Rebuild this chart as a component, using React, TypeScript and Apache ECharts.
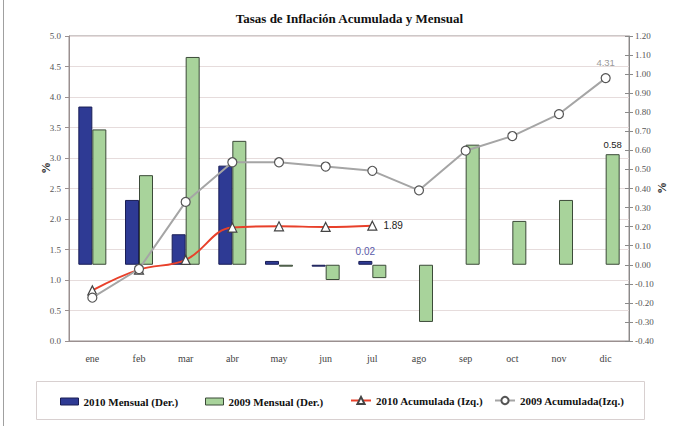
import React, { useEffect, useRef } from "react";
import * as echarts from "echarts";

const categories = ["ene", "feb", "mar", "abr", "may", "jun", "jul", "ago", "sep", "oct", "nov", "dic"];
const mensual2010 = [0.83, 0.34, 0.16, 0.52, 0.02, -0.01, 0.02, null, null, null, null, null];
const mensual2009 = [0.71, 0.47, 1.09, 0.65, -0.01, -0.08, -0.07, -0.3, 0.63, 0.23, 0.34, 0.58];
const acumulada2010 = [0.83, 1.17, 1.33, 1.86, 1.88, 1.87, 1.89, null, null, null, null, null];
const acumulada2009 = [0.71, 1.18, 2.28, 2.93, 2.93, 2.86, 2.79, 2.47, 3.12, 3.36, 3.72, 4.31];

const seriesNames = ["2010 Mensual (Der.)", "2009 Mensual (Der.)", "2010 Acumulada (Izq.)", "2009 Acumulada(Izq.)"];
const labelled2010Mensual = 6;
const labelled2009Mensual = 11;
const labelled2010Acum = 6;
const labelled2009Acum = 11;

const BLUE = "#2E3A94";
const BLUE_BORDER = "#1A1E55";
const GREEN = "#A8D39B";
const GREEN_BORDER = "#3B4A38";
const RED = "#E8402A";
const GRAY_LINE = "#A5A5A5";
const SERIF = "'Liberation Serif', 'Times New Roman', serif";
const SANS = "'Liberation Sans', Arial, sans-serif";

export default function App() {
  const ref = useRef<HTMLDivElement>(null);
  useEffect(() => {
    if (!ref.current) return;
    const chart = echarts.init(ref.current, null, { renderer: "svg" });
    const legendText = { fontFamily: SERIF, fontWeight: "bold", fontSize: 11, color: "#111" };
    const option: any = {
      animation: false,
      backgroundColor: "#ffffff",
      title: {
        text: "Tasas de Inflación Acumulada y Mensual",
        left: "center",
        top: 7,
        textStyle: { fontFamily: SERIF, fontWeight: "bold", fontSize: 13, color: "#111" },
      },
      grid: {
        left: 69,
        right: 70,
        top: 36,
        bottom: 85,
        show: true,
        borderColor: "#9A9090",
        borderWidth: 1,
        backgroundColor: "transparent",
      },
      legend: [
        { data: [{ name: seriesNames[0], icon: "rect", itemStyle: { color: BLUE, borderColor: BLUE_BORDER, borderWidth: 1 } }], left: 60, top: 396, padding: 0, itemWidth: 18, itemHeight: 7, textStyle: legendText },
        { data: [{ name: seriesNames[1], icon: "rect", itemStyle: { color: GREEN, borderColor: GREEN_BORDER, borderWidth: 1 } }], left: 205, top: 396, padding: 0, itemWidth: 18, itemHeight: 7, textStyle: legendText },
        { data: [seriesNames[2]], left: 350, top: 395, padding: 0, itemWidth: 20, itemHeight: 9, textStyle: legendText },
        { data: [seriesNames[3]], left: 494, top: 395, padding: 0, itemWidth: 20, itemHeight: 9, textStyle: legendText },
      ],
      graphic: [
        { type: "line", shape: { x1: 3.5, y1: 0, x2: 3.5, y2: 426 }, style: { stroke: "#A0A0A0", lineWidth: 1 } },
        { type: "rect", shape: { x: 36.5, y: 381.5, width: 608, height: 38 }, style: { fill: "none", stroke: "#D8D0D0", lineWidth: 1 }, z: -1 },
        { type: "text", x: 46, y: 168, rotation: Math.PI / 2, style: { text: "%", fontFamily: SERIF, fontWeight: "bold", fontSize: 12, fill: "#222", align: "center", verticalAlign: "middle" } },
        { type: "text", x: 662, y: 188, rotation: Math.PI / 2, style: { text: "%", fontFamily: SERIF, fontWeight: "bold", fontSize: 12, fill: "#222", align: "center", verticalAlign: "middle" } },
      ],
      xAxis: {
        type: "category",
        data: categories,
        axisLine: { show: true, lineStyle: { color: "#9A9090" } },
        axisTick: { show: false },
        axisLabel: { fontFamily: SERIF, fontSize: 10, color: "#444", margin: 12 },
        splitLine: { show: false },
      },
      yAxis: [
        {
          type: "value",
          min: 0,
          max: 5,
          interval: 0.5,
          position: "left",
          axisLine: { show: true, lineStyle: { color: "#9A9090" } },
          axisTick: { show: true, length: 4, lineStyle: { color: "#9A9090" } },
          axisLabel: { fontFamily: SERIF, fontSize: 9, color: "#555", margin: 8, formatter: (v: number) => v.toFixed(1) },
          splitLine: { show: true, lineStyle: { color: "#E6DCDC", width: 1 } },
        },
        {
          type: "value",
          min: -0.4,
          max: 1.2,
          interval: 0.1,
          position: "right",
          axisLine: { show: true, lineStyle: { color: "#8A8A8A" } },
          axisTick: { show: true, length: 4, lineStyle: { color: "#8A8A8A" } },
          axisLabel: { fontFamily: SERIF, fontSize: 9, color: "#555", margin: 6, formatter: (v: number) => v.toFixed(2) },
          splitLine: { show: false },
        },
        {
          type: "value",
          min: -0.4,
          max: 1.2,
          interval: 0.1,
          position: "right",
          axisLine: { show: false },
          axisTick: { show: true, inside: true, length: 4, lineStyle: { color: "#8A8A8A" } },
          axisLabel: { show: false },
          splitLine: { show: false },
        },
      ],
      series: [
        {
          name: seriesNames[0],
          type: "bar",
          yAxisIndex: 1,
          barWidth: 14,
          barGap: "0%",
          itemStyle: { color: BLUE, borderColor: BLUE_BORDER, borderWidth: 1 },
          data: mensual2010.map((v, i) =>
            i === labelled2010Mensual
              ? { value: v, label: { show: true, position: "top", distance: 4, color: "#5A5AAA", fontFamily: SANS, fontSize: 10, formatter: (p: any) => Number(p.value).toFixed(2) } }
              : v
          ),
        },
        {
          name: seriesNames[1],
          type: "bar",
          yAxisIndex: 1,
          barWidth: 14,
          barGap: "0%",
          itemStyle: { color: GREEN, borderColor: GREEN_BORDER, borderWidth: 1 },
          data: mensual2009.map((v, i) =>
            i === labelled2009Mensual
              ? { value: v, label: { show: true, position: "top", distance: 5, color: "#222", fontFamily: SANS, fontSize: 9.5, formatter: (p: any) => Number(p.value).toFixed(2) } }
              : v
          ),
        },
        {
          name: seriesNames[2],
          type: "line",
          yAxisIndex: 0,
          smooth: 0.4,
          symbol: "triangle",
          symbolSize: 9,
          lineStyle: { color: RED, width: 2 },
          itemStyle: { color: "#ffffff", borderColor: "#444", borderWidth: 1.2 },
          z: 3,
          data: acumulada2010.map((v, i) =>
            i === labelled2010Acum
              ? { value: v, label: { show: true, position: "right", distance: 6, color: "#222", fontFamily: SANS, fontSize: 10, formatter: (p: any) => Number(p.value).toFixed(2) } }
              : v
          ),
        },
        {
          name: seriesNames[3],
          type: "line",
          yAxisIndex: 0,
          symbol: "circle",
          symbolSize: 9,
          lineStyle: { color: GRAY_LINE, width: 2 },
          itemStyle: { color: "#ffffff", borderColor: "#555", borderWidth: 1.2 },
          z: 4,
          data: acumulada2009.map((v, i) =>
            i === labelled2009Acum
              ? { value: v, label: { show: true, position: "top", distance: 5, color: "#999", fontFamily: SANS, fontSize: 9.5, formatter: (p: any) => Number(p.value).toFixed(2) } }
              : v
          ),
        },
      ],
    };
    chart.setOption(option);
    return () => chart.dispose();
  }, []);
  return <div ref={ref} style={{ position: "fixed", left: 0, top: 0, width: 699, height: 426 }} />;
}
